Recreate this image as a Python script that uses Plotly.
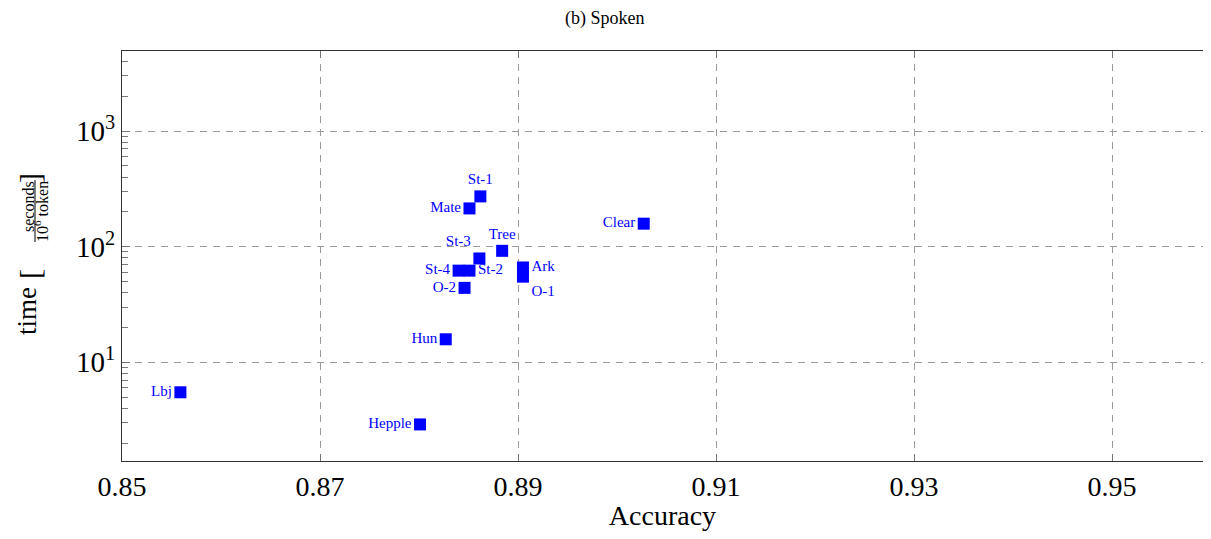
import plotly.graph_objects as go

names = ["Lbj", "Hepple", "Hun", "O-2", "St-4", "St-2", "St-3", "Tree", "Mate", "St-1", "Ark", "O-1", "Clear"]
accuracy = [0.8559, 0.8801, 0.8827, 0.8846, 0.8840, 0.8851, 0.8861, 0.8884, 0.8851, 0.8862, 0.8905, 0.8905, 0.9027]
time_s = [5.5, 2.9, 15.8, 44, 62, 62, 79, 92, 214, 272, 66, 55, 158]
label_pos = ["middle left", "middle left", "middle left", "middle left", "middle left", "middle right",
             "top left", "top center", "middle left", "top center", "middle right", "bottom right", "middle left"]

x_ticks = [0.85, 0.87, 0.89, 0.91, 0.93, 0.95]
x_tick_labels = ["0.85", "0.87", "0.89", "0.91", "0.93", "0.95"]
y_ticks = [10, 100, 1000]
y_tick_labels = ["10<sup>1</sup>", "10<sup>2</sup>", "10<sup>3</sup>"]

# page has an 8px body margin; figure coordinates = page coordinates - 8
OFF = 8
W, H = 1211 - 2 * OFF, 539 - 2 * OFF
L, R, T, B = 122 - OFF, 0, 51 - OFF, 539 - OFF - 461
PW, PH = W - L - R, H - T - B
SERIF = "Liberation Serif"
PX_PER_UNIT = 9900.0
x_max = 0.85 + PW / PX_PER_UNIT

def px(xpage):
    return (xpage - OFF - L) / PW

def py(ypage):
    return (H - B - (ypage - OFF)) / PH

fig = go.Figure()
fig.add_trace(go.Scatter(
    x=accuracy, y=time_s, mode="markers+text", text=names, textposition=label_pos,
    marker=dict(symbol="square", size=12, color="#0000ff", line=dict(width=0)),
    textfont=dict(family=SERIF, size=15, color="#0000ff"),
    cliponaxis=False, showlegend=False,
))

grid = dict(showgrid=True, gridcolor="#9a9a9a", griddash="7px,6px", gridwidth=1, zeroline=False,
            showline=True, linecolor="#333", linewidth=1, ticks="inside", tickcolor="#777")

fig.update_xaxes(range=[0.85, x_max], tickvals=x_ticks, ticktext=x_tick_labels, ticklen=7, mirror="ticks",
                 tickfont=dict(family=SERIF, size=28, color="black"),
                 title=dict(text="Accuracy", font=dict(family=SERIF, size=28, color="black"), standoff=10),
                 **grid)
fig.update_yaxes(type="log", range=[0.146, 3.692], tickvals=y_ticks, ticktext=y_tick_labels, ticklen=8,
                 mirror=False, tickfont=dict(family=SERIF, size=29, color="black"),
                 minor=dict(ticks="inside", ticklen=6, tickcolor="#777", dtick="D1", showgrid=False),
                 **grid)

ann = [
    dict(text="(b) Spoken", x=0.5, y=py(19), xref="paper", textangle=0,
         font=dict(family=SERIF, size=18, color="black")),
    dict(text="time", x=px(27), y=py(311), font=dict(family=SERIF, size=27, color="black")),
    dict(text="[", x=px(29), y=py(274), font=dict(family=SERIF, size=30, color="black")),
    dict(text="seconds", x=px(28), y=py(207), font=dict(family=SERIF, size=16, color="black")),
    dict(text="10<sup>6</sup> token", x=px(41), y=py(211), font=dict(family=SERIF, size=16, color="black")),
    dict(text="]", x=px(29), y=py(178), font=dict(family=SERIF, size=30, color="black")),
]
for a in ann:
    a.setdefault("textangle", -90)
    a.update(xref="paper", yref="paper", showarrow=False, xanchor="center", yanchor="middle")
# title centred on the page
ann[0]["x"] = (605 - OFF - L) / PW

fig.add_shape(type="line", xref="paper", yref="paper", x0=px(35), x1=px(35), y0=py(180), y1=py(242),
              line=dict(color="black", width=1))

fig.update_layout(
    width=W, height=H, margin=dict(l=L, r=R, t=T, b=B, autoexpand=False),
    paper_bgcolor="white", plot_bgcolor="white",
    font=dict(family=SERIF, color="black"),
    annotations=ann,
)

fig.write_html("out.html")
